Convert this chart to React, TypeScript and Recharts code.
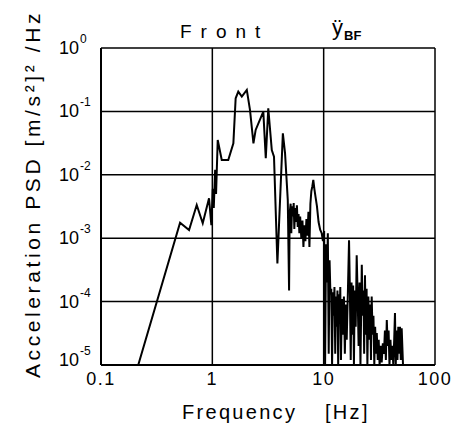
import React from 'react';
import { LineChart, Line, XAxis, YAxis, CartesianGrid } from 'recharts';

// frequency [Hz] and acceleration PSD [(m/s^2)^2/Hz]
const freq = [
  0.216, 0.513, 0.618, 0.724, 0.82, 0.934, 0.98, 1.01, 1.03, 1.06, 1.08, 1.118,
  1.215, 1.39, 1.545, 1.62, 1.71, 1.84, 2.04, 2.18, 2.34, 2.45, 2.87, 3.02, 3.18,
  3.42, 3.58, 3.84, 4.3, 4.5, 4.76, 4.89, 4.95, 5.05, 5.12, 5.2, 5.3, 5.38, 5.45,
  5.55, 5.65, 5.75, 5.85, 5.95, 6.05, 6.15, 6.3, 6.45, 6.58, 6.7, 6.85, 7.0, 7.15,
  7.3, 7.45, 7.6, 7.75, 7.9, 8.07, 8.25, 8.45, 8.7, 9.0, 9.3, 9.6, 9.85, 10.1,
  10.3, 10.5, 10.7, 10.9, 11.1, 11.3, 11.5, 11.7, 11.9, 12.1, 12.3, 12.5, 12.7,
  12.9, 13.1, 13.3, 13.5, 13.7, 13.9, 14.1, 14.3, 14.6, 14.9, 15.2, 15.5, 15.8,
  16.1, 16.5, 16.9, 17.2, 17.5, 17.8, 18.1, 18.4, 18.7, 19.0, 19.4, 19.8, 20.2,
  20.6, 21.0, 21.4, 22.0, 22.4, 22.8, 23.1, 23.5, 23.9, 24.3, 24.7, 25.2, 25.7,
  26.2, 26.6, 27.0, 27.5, 28.0, 28.5, 29.0, 29.5, 30.0, 30.6, 31.2, 31.8, 32.5,
  33.2, 34.0, 34.8, 35.5, 36.2, 36.9, 37.6, 38.3, 39.0, 39.8, 40.6, 41.4, 42.2,
  43.0, 43.7, 44.4, 45.2, 46.0, 46.8, 47.6, 48.5, 49.3, 50.2, 51.6,
];

const psd = [
  1e-5, 1.76e-3, 1.35e-3, 3.34e-3, 1.72e-3, 4.26e-3, 1.6e-3, 6e-3, 3e-3, 1.2e-2, 5e-3, 0.0354,
  0.0171, 0.0171, 0.0314, 0.161, 0.205, 0.171, 0.218, 0.105, 0.0314, 0.051, 0.099, 0.0182, 0.112,
  0.0246, 0.0193, 4e-4, 0.045, 0.0218, 4e-3, 1.5e-4, 2.5e-3, 3.5e-3, 1.2e-3, 3.2e-3, 2.2e-3, 3.6e-3, 1.4e-3,
  3.0e-3, 1.8e-3, 3.3e-3, 1.5e-3, 2.4e-3, 1.2e-3, 2.2e-3, 1.0e-3, 1.9e-3, 7.3e-4, 1.6e-3, 9e-4, 2.0e-3, 1.1e-3,
  2.6e-3, 7.3e-4, 3.5e-3, 5.5e-3, 6.5e-3, 8.3e-3, 6.0e-3, 4.5e-3, 3.2e-3, 1.8e-3, 1.36e-3, 1.2e-3, 9e-4, 1.3e-3,
  1e-5, 8e-4, 2e-4, 1.2e-3, 1.5e-5, 4.5e-4, 1.3e-4, 1.6e-4, 1e-5, 1.4e-4, 6e-5, 1.7e-4, 1.5e-5,
  1.2e-4, 4e-5, 1.5e-4, 1e-5, 1.3e-4, 5e-5, 1.7e-4, 1.2e-5, 1.1e-4, 3e-5, 1.2e-4, 1.5e-5, 9e-5,
  2.5e-5, 1.4e-4, 9.3e-4, 1.5e-4, 1.2e-5, 2e-4, 3e-5, 1.8e-4, 1e-5, 1.5e-4, 4e-5, 5.4e-4, 1.2e-4,
  2e-5, 2e-4, 1e-5, 3.8e-4, 6e-5, 1.5e-4, 1.5e-5, 2.6e-4, 3e-5, 1.6e-4, 1e-5, 1.2e-4, 2.5e-5,
  9e-5, 1.2e-5, 1.2e-4, 3e-5, 6e-5, 1e-5, 4e-5, 1.5e-5, 3.2e-5, 1.2e-5, 2.5e-5, 1e-5, 2e-5,
  1.1e-5, 2.2e-5, 1.5e-5, 3.5e-5, 1.2e-5, 5.1e-5, 2e-5, 3.5e-5, 1e-5, 2.5e-5, 1.2e-5, 2e-5, 1e-5,
  2.5e-5, 6.6e-5, 1e-5, 3.5e-5, 1.2e-5, 4e-5, 1.5e-5, 4e-5, 1.2e-5, 3.8e-5, 1e-5,
];

const xTicks = [0.1, 1, 10, 100];
const xTickLabels = ['0.1', '1', '10', '100'];
const yTicks = [1e-5, 1e-4, 1e-3, 1e-2, 1e-1, 1];
const yExponents = ['-5', '-4', '-3', '-2', '-1', '0'];

const data = freq.map((f, i) => ({ f, psd: psd[i] }));

const FONT = '"Liberation Sans", Arial, sans-serif';

function XTick(props: any) {
  const { x, y, payload } = props;
  const i = xTicks.indexOf(payload.value);
  return (
    <text x={x} y={y + 12} textAnchor="middle" fontSize={18} fontFamily={FONT} fill="#000" letterSpacing={1.5}>
      {xTickLabels[i]}
    </text>
  );
}

function YTick(props: any) {
  const { x, y, payload } = props;
  const i = yTicks.indexOf(payload.value);
  const dy = i === 0 ? -5 : 0;
  return (
    <g>
      <text x={x - 14} y={y + 6 + dy} textAnchor="end" fontSize={18} fontFamily={FONT} fill="#000">
        10
      </text>
      <text x={x - 13} y={y - 5 + dy} textAnchor="start" fontSize={12} fontFamily={FONT} fill="#000">
        {yExponents[i]}
      </text>
    </g>
  );
}

function XLabel() {
  return (
    <g fontFamily={FONT} fontSize={20} fill="#000" letterSpacing={2.3}>
      <text x={182} y={419}>Frequency</text>
      <text x={325} y={419}>[Hz]</text>
    </g>
  );
}

function YLabel() {
  return (
    <text
      transform="translate(40,194) rotate(-90)"
      textAnchor="middle"
      fontFamily={FONT}
      fontSize={21}
      fill="#000"
      letterSpacing={3.6}
    >
      Acceleration PSD [m/s²]² /Hz
    </text>
  );
}

export default function App() {
  return (
    <div style={{ position: 'fixed', left: 0, top: 0, width: 458, height: 425, background: '#fff' }}>
      <LineChart width={458} height={425} data={data} margin={{ top: 48, right: 23, bottom: 30, left: 41 }}>
        <CartesianGrid stroke="#000" strokeWidth={1.5} />
        <XAxis
          dataKey="f"
          type="number"
          scale="log"
          domain={[0.1, 100]}
          ticks={xTicks}
          allowDataOverflow
          height={30}
          tickLine={false}
          axisLine={{ stroke: '#000', strokeWidth: 2 }}
          tick={<XTick />}
          label={{ content: <XLabel /> }}
        />
        <YAxis
          type="number"
          scale="log"
          domain={[1e-5, 1]}
          ticks={yTicks}
          allowDataOverflow
          width={60}
          tickLine={false}
          axisLine={{ stroke: '#000', strokeWidth: 2 }}
          tick={<YTick />}
          label={{ content: <YLabel /> }}
        />
        <Line
          dataKey="psd"
          type="linear"
          stroke="#000"
          strokeWidth={2}
          dot={false}
          isAnimationActive={false}
        />
      </LineChart>
      <div style={{ position: 'absolute', left: 180, top: 22, fontFamily: FONT, fontSize: 19, letterSpacing: 9, lineHeight: 1 }}>
        Front
      </div>
      <div style={{ position: 'absolute', left: 332, top: 17, fontFamily: FONT, fontSize: 22, lineHeight: 1 }}>
        ÿ
        <span style={{ fontSize: 13, fontWeight: 'bold', position: 'relative', top: 5, marginLeft: 1 }}>BF</span>
      </div>
    </div>
  );
}
